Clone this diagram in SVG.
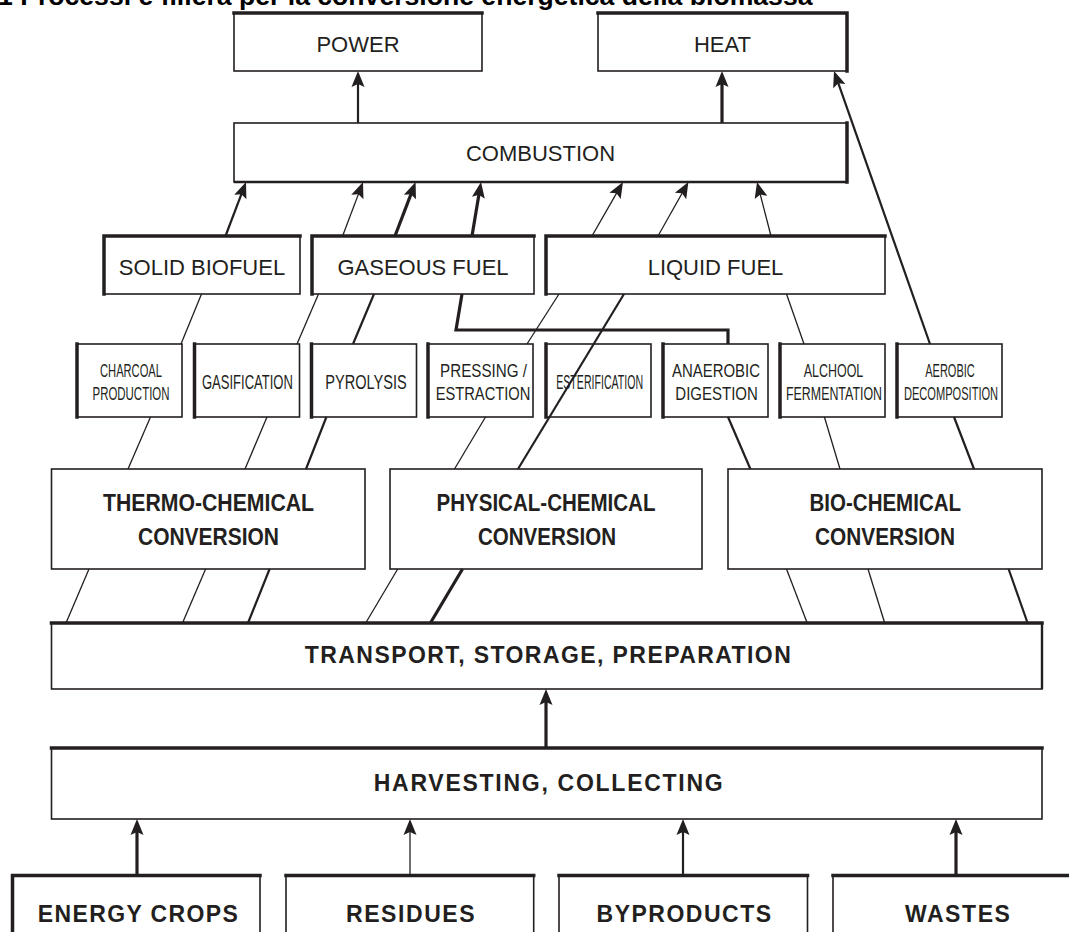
<svg xmlns="http://www.w3.org/2000/svg" width="1069" height="932" viewBox="0 0 1069 932">
<style>
.box{fill:#fff;stroke:#231f20;stroke-width:1.6}
.tk{fill:none;stroke:#231f20;stroke-width:3.5;stroke-linecap:square}
.md{fill:none;stroke:#231f20;stroke-width:2.4}
.t{font-family:"Liberation Sans",Arial,sans-serif;font-size:22px;fill:#231f20;text-anchor:middle}
.b{font-family:"Liberation Sans",Arial,sans-serif;font-size:23px;font-weight:bold;fill:#231f20;text-anchor:middle}
.p{font-family:"Liberation Sans",Arial,sans-serif;font-size:17.5px;fill:#231f20;text-anchor:middle}
.p1{font-family:"Liberation Sans",Arial,sans-serif;font-size:20px;fill:#231f20;text-anchor:middle}
.c{fill:none;stroke:#231f20;stroke-width:1.3}
.c2{fill:none;stroke:#231f20;stroke-width:2.2}
.c3{fill:none;stroke:#231f20;stroke-width:3.2}
.title{font-family:"Liberation Sans",Arial,sans-serif;font-size:26.6px;font-weight:bold;fill:#000}
</style>
<defs>
<marker id="ah" viewBox="-7 -7 18 14" markerWidth="18" markerHeight="14" refX="0" refY="0" orient="auto" markerUnits="userSpaceOnUse">
<path d="M10,0 L-6,-6.5 L-3,0 L-6,6.5 Z" fill="#231f20"/>
</marker>
</defs>
<rect width="1069" height="932" fill="#fff"/>
<text class="title" x="-2" y="4.5">1 Processi e filiera per la conversione energetica della biomassa</text>

<g id="power"><rect class="box" x="234" y="13" width="248" height="58"/><path class="tk" d="M234,13 H482"/><text class="t" x="358" y="52">POWER</text></g>
<g id="heat"><rect class="box" x="598" y="13" width="249" height="58"/><path class="tk" d="M598,13 H847 V71"/><text class="t" x="722.5" y="52">HEAT</text></g>
<g id="combustion"><rect class="box" x="234" y="123" width="613" height="59"/><path class="tk" d="M847,123 V182"/><path class="md" d="M847,182 H234"/><text class="t" x="540.5" y="161">COMBUSTION</text></g>

<g id="solid-biofuel"><rect class="box" x="104" y="236" width="196" height="58"/><path class="tk" d="M104,294 V236 H300"/><text class="t" x="202" y="275">SOLID BIOFUEL</text></g>
<g id="gaseous-fuel"><rect class="box" x="312" y="236" width="222" height="58"/><path class="tk" d="M312,294 V236 H534"/><text class="t" x="423" y="275">GASEOUS FUEL</text></g>
<g id="liquid-fuel"><rect class="box" x="546" y="236" width="339" height="58"/><path class="tk" d="M546,294 V236 H885"/><text class="t" x="715.5" y="275">LIQUID FUEL</text></g>

<g id="charcoal"><rect class="box" x="77" y="344" width="105" height="73"/><path class="tk" d="M77,344 V417"/><text class="p" transform="translate(131,377) scale(0.638,1)">CHARCOAL</text><text class="p" transform="translate(131,400) scale(0.655,1)">PRODUCTION</text></g>
<g id="gasification"><rect class="box" x="194.5" y="344" width="105" height="73"/><path class="tk" d="M194.5,344 V417"/><text class="p1" transform="translate(247.4,388.5) scale(0.652,1)">GASIFICATION</text></g>
<g id="pyrolysis"><rect class="box" x="311.5" y="344" width="105" height="73"/><path class="tk" d="M311.5,344 V417"/><text class="p1" transform="translate(366,388.5) scale(0.728,1)">PYROLYSIS</text></g>
<g id="pressing"><rect class="box" x="428" y="344" width="105" height="73"/><path class="tk" d="M428,344 V417"/><text class="p" transform="translate(483.5,377) scale(0.868,1)">PRESSING /</text><text class="p" transform="translate(483,400) scale(0.84,1)">ESTRACTION</text></g>
<g id="esterification"><rect class="box" x="546" y="344" width="105" height="73"/><path class="tk" d="M546,344 V417"/><text class="p1" transform="translate(599.7,388.5) scale(0.53,1)">ESTERIFICATION</text></g>
<g id="anaerobic"><rect class="box" x="663" y="344" width="105" height="73"/><path class="tk" d="M663,344 V417"/><text class="p" transform="translate(716,377) scale(0.854,1)">ANAEROBIC</text><text class="p" transform="translate(716.6,400) scale(0.858,1)">DIGESTION</text></g>
<g id="alchool"><rect class="box" x="780" y="344" width="105" height="73"/><path class="tk" d="M780,344 V417"/><text class="p" transform="translate(833.5,377) scale(0.712,1)">ALCHOOL</text><text class="p" transform="translate(834,400) scale(0.71,1)">FERMENTATION</text></g>
<g id="aerobic"><rect class="box" x="897" y="344" width="105" height="73"/><path class="tk" d="M897,344 V417"/><text class="p" transform="translate(950,377) scale(0.63,1)">AEROBIC</text><text class="p" transform="translate(951,400) scale(0.634,1)">DECOMPOSITION</text></g>

<g id="thermo"><rect class="box" x="51.5" y="469" width="313.5" height="100"/><text class="b" x="208.5" y="511" textLength="211" lengthAdjust="spacingAndGlyphs">THERMO-CHEMICAL</text><text class="b" x="208.5" y="545" textLength="141" lengthAdjust="spacingAndGlyphs">CONVERSION</text></g>
<g id="physical"><rect class="box" x="390" y="469" width="312" height="100"/><text class="b" x="546" y="511" textLength="219" lengthAdjust="spacingAndGlyphs">PHYSICAL-CHEMICAL</text><text class="b" x="547" y="545" textLength="138" lengthAdjust="spacingAndGlyphs">CONVERSION</text></g>
<g id="bio"><rect class="box" x="728" y="469" width="314" height="100"/><text class="b" x="885.3" y="511" textLength="151.5" lengthAdjust="spacingAndGlyphs">BIO-CHEMICAL</text><text class="b" x="885" y="545" textLength="140" lengthAdjust="spacingAndGlyphs">CONVERSION</text></g>

<g id="transport"><rect class="box" x="51.5" y="623" width="990.5" height="66"/><path class="tk" d="M51.5,623 H1042"/><path class="md" d="M1042,623 V689"/><text class="b" x="547.8" y="663" textLength="486" lengthAdjust="spacing">TRANSPORT, STORAGE, PREPARATION</text></g>
<g id="harvesting"><rect class="box" x="51.5" y="748" width="990.5" height="71"/><path class="tk" d="M51.5,748 H1042"/><text class="b" x="548.2" y="791" textLength="349" lengthAdjust="spacing">HARVESTING, COLLECTING</text></g>

<g id="energy-crops"><rect class="box" x="12.5" y="875.5" width="247.5" height="70"/><path class="tk" d="M12.5,940 V875.5 H260"/><text class="b" x="137.8" y="922" textLength="200" lengthAdjust="spacing">ENERGY CROPS</text></g>
<g id="residues"><rect class="box" x="286" y="875.5" width="247.7" height="70"/><path class="tk" d="M286,875.5 H533.7"/><text class="b" x="410.3" y="922" textLength="128.5" lengthAdjust="spacing">RESIDUES</text></g>
<g id="byproducts"><rect class="box" x="559" y="875.5" width="248.5" height="70"/><path class="tk" d="M559,875.5 H807.5"/><text class="b" x="683.8" y="922" textLength="174.5" lengthAdjust="spacing">BYPRODUCTS</text></g>
<g id="wastes"><rect class="box" x="833" y="875.5" width="250" height="70"/><path class="tk" d="M833,875.5 H1075"/><text class="b" x="957.4" y="922" textLength="105" lengthAdjust="spacing">WASTES</text></g>

<g id="connectors">
<path class="c2" d="M358,123 V81" marker-end="url(#ah)"/>
<path class="c3" d="M722,123 V81" marker-end="url(#ah)"/>
<path class="c" d="M66,623 L89,569"/>
<path class="c" d="M128,469 L150.5,417"/>
<path class="c" d="M181,344 L201.5,294"/>
<path class="c2" d="M225.5,236 L242.45,191.35" marker-end="url(#ah)"/>
<path class="c" d="M182.5,623 L205.6,569"/>
<path class="c" d="M245,469 L267,417"/>
<path class="c" d="M297,344 L318.5,294"/>
<path class="c" d="M342.6,236 L359.47,191.36" marker-end="url(#ah)"/>
<path class="c2" d="M248,623 L269.6,569"/>
<path class="c2" d="M306,469 L326.4,417"/>
<path class="c2" d="M353,344 L374,294"/>
<path class="c3" d="M395,236 L412.04,191.34" marker-end="url(#ah)"/>
<path class="c" d="M365.7,623 L397.7,569"/>
<path class="c" d="M454.5,469 L485.5,417"/>
<path class="c" d="M527,344 L559,294"/>
<path class="c" d="M592,236 L618.02,190.67" marker-end="url(#ah)"/>
<path class="c3" d="M430.4,623 L462.5,569"/>
<path class="c2" d="M518,469 L624,294"/>
<path class="c" d="M658,236 L683.49,190.71" marker-end="url(#ah)"/>
<path class="c" d="M807.2,623 L786.5,569"/>
<path class="c2" d="M750.4,469 L728,417"/>
<path class="c3" d="M728,344 V330 H456 L462,294" stroke-linejoin="miter"/>
<path class="c3" d="M472,236 L479.36,191.87" marker-end="url(#ah)"/>
<path class="c" d="M884.7,623 L868,569"/>
<path class="c" d="M840,469 L824.4,417"/>
<path class="c" d="M804,344 L786.5,294"/>
<path class="c" d="M771,236 L759.51,191.68" marker-end="url(#ah)"/>
<path class="c2" d="M1027.6,623 L1008.6,569"/>
<path class="c2" d="M974,469 L954,417"/>
<path class="c2" d="M930,344 L837.32,80.43" marker-end="url(#ah)"/>
<path class="c3" d="M546,748 V699" marker-end="url(#ah)"/>
<path class="c3" d="M137,875.5 V829" marker-end="url(#ah)"/>
<path class="c" d="M410,875.5 V829" marker-end="url(#ah)"/>
<path class="c2" d="M683,875.5 V829" marker-end="url(#ah)"/>
<path class="c3" d="M956,875.5 V829" marker-end="url(#ah)"/>
</g>
</svg>
